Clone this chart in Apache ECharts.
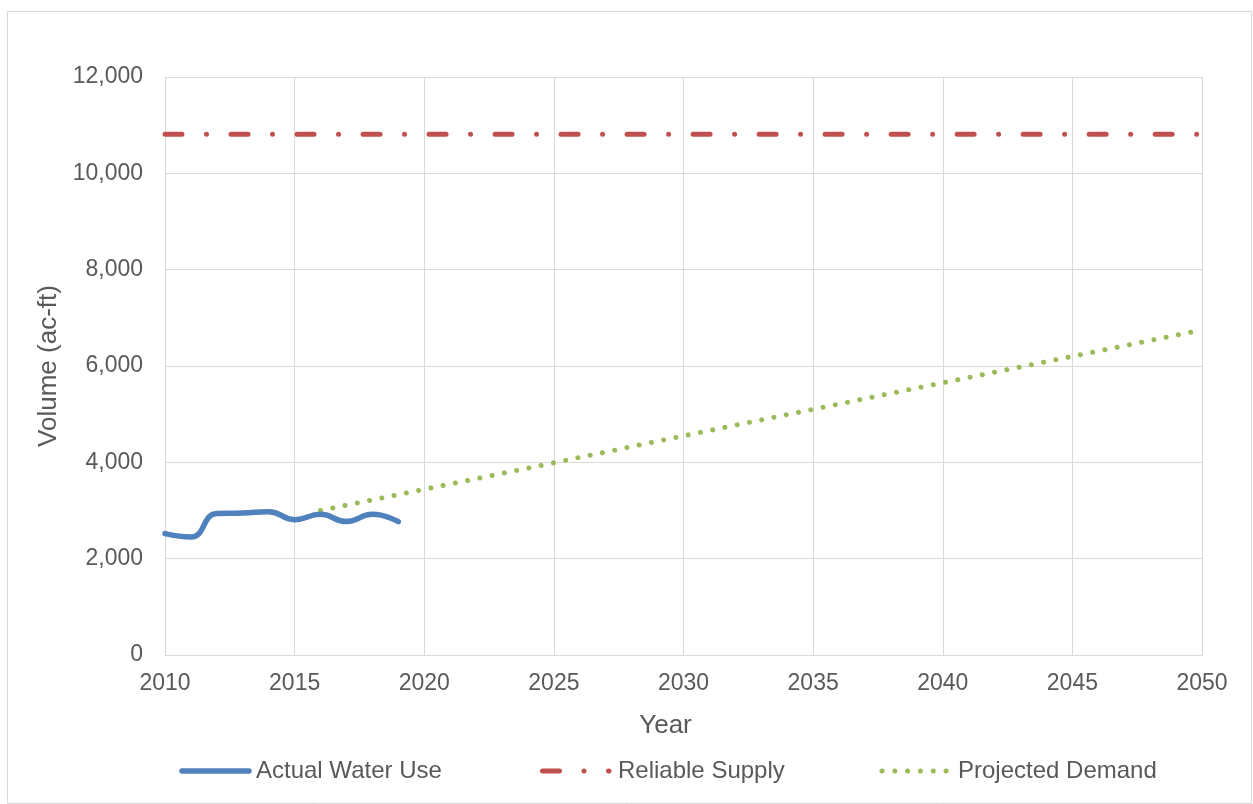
<!DOCTYPE html>
<html>
<head>
<meta charset="utf-8">
<script src="https://cdn.jsdelivr.net/npm/echarts@6/dist/echarts.min.js"></script>
<style>
html,body{margin:0;padding:0;background:#fff;}
#c{width:1253px;height:804px;}
</style>
</head>
<body>
<div id="c"></div>
<script>
const actualYears = [2010, 2011, 2012, 2013, 2014, 2015, 2016, 2017, 2018, 2019];
const actualUse   = [2520, 2450, 2940, 2950, 2975, 2810, 2920, 2770, 2920, 2770];
const supplyYears = [2010, 2050];
const supplyVals  = [10810, 10810];
const demandYears = [2016, 2020, 2025, 2030, 2035, 2040, 2045, 2050];
const demandVals  = [3000, 3440, 3990, 4550, 5100, 5650, 6200, 6750];
const seriesNames = ['Actual Water Use', 'Reliable Supply', 'Projected Demand'];

const zip = (a, b) => a.map((x, i) => [x, b[i]]);
const txt = '#595959';
const fontFam = '"Liberation Sans", Arial, sans-serif';
const blue = '#4f81bd', red = '#c0504d', green = '#9bbb59';
const supplyDash = [17, 24.5, 0.01, 24.5];
const demandDash = [0.01, 12.5];

const legendY = 771;
const legendFont = '24px ' + fontFam;
const legendGraphics = [
  {type: 'line', shape: {x1: 182, y1: legendY, x2: 249, y2: legendY},
   style: {stroke: blue, lineWidth: 5.5, lineCap: 'round'}},
  {type: 'text', x: 256, y: legendY,
   style: {text: seriesNames[0], fill: txt, font: legendFont, textVerticalAlign: 'middle'}},
  {type: 'line', shape: {x1: 542.5, y1: legendY, x2: 609, y2: legendY},
   style: {stroke: red, lineWidth: 5, lineCap: 'round', lineDash: supplyDash}},
  {type: 'text', x: 618, y: legendY,
   style: {text: seriesNames[1], fill: txt, font: legendFont, textVerticalAlign: 'middle'}},
  {type: 'line', shape: {x1: 882, y1: legendY, x2: 946.5, y2: legendY},
   style: {stroke: green, lineWidth: 5, lineCap: 'round', lineDash: [0.01, 12.8]}},
  {type: 'text', x: 958, y: legendY,
   style: {text: seriesNames[2], fill: txt, font: legendFont, textVerticalAlign: 'middle'}}
];

const chart = echarts.init(document.getElementById('c'), null, {renderer: 'canvas'});
chart.setOption({
  animation: false,
  backgroundColor: '#fff',
  textStyle: {fontFamily: fontFam, color: txt},
  graphic: [{
    type: 'rect', shape: {x: 7.5, y: 11.5, width: 1244, height: 792},
    style: {fill: 'none', stroke: '#d9d9d9', lineWidth: 1}, silent: true, z: -1
  }].concat(legendGraphics.map(g => Object.assign({silent: true}, g))),
  grid: {left: 165, right: 51, top: 77, bottom: 149},
  xAxis: {
    type: 'value', min: 2010, max: 2050, interval: 5,
    name: 'Year', nameLocation: 'middle', nameGap: 58,
    nameTextStyle: {fontSize: 26, color: txt, fontFamily: fontFam, padding: [0, 36, 0, 0]},
    axisLine: {show: true, lineStyle: {color: '#d9d9d9', width: 1}},
    axisTick: {show: false},
    axisLabel: {fontSize: 23, color: txt, margin: 17, formatter: v => String(v)},
    splitLine: {show: true, lineStyle: {color: '#d9d9d9', width: 1}}
  },
  yAxis: {
    type: 'value', min: 0, max: 12000, interval: 2000,
    name: 'Volume (ac-ft)', nameLocation: 'middle', nameGap: 101, nameRotate: 90,
    nameTextStyle: {fontSize: 26, color: txt, fontFamily: fontFam},
    axisLine: {show: true, lineStyle: {color: '#d9d9d9', width: 1}},
    axisTick: {show: false},
    axisLabel: {fontSize: 23, color: txt, margin: 22, formatter: v => v.toLocaleString('en-US')},
    splitLine: {show: true, lineStyle: {color: '#d9d9d9', width: 1}}
  },
  series: [
    {
      name: seriesNames[0], type: 'line', data: zip(actualYears, actualUse),
      smooth: 0.5, showSymbol: false, symbol: 'none',
      lineStyle: {color: blue, width: 5.5, cap: 'round', join: 'round'},
      itemStyle: {color: blue}, z: 3
    },
    {
      name: seriesNames[1], type: 'line', data: zip(supplyYears, supplyVals),
      showSymbol: false, symbol: 'none',
      lineStyle: {color: red, width: 5, type: supplyDash, cap: 'round'},
      itemStyle: {color: red}, z: 2
    },
    {
      name: seriesNames[2], type: 'line', data: zip(demandYears, demandVals),
      showSymbol: false, symbol: 'none',
      lineStyle: {color: green, width: 5, type: demandDash, cap: 'round'},
      itemStyle: {color: green}, z: 2
    }
  ]
});
</script>
</body>
</html>
